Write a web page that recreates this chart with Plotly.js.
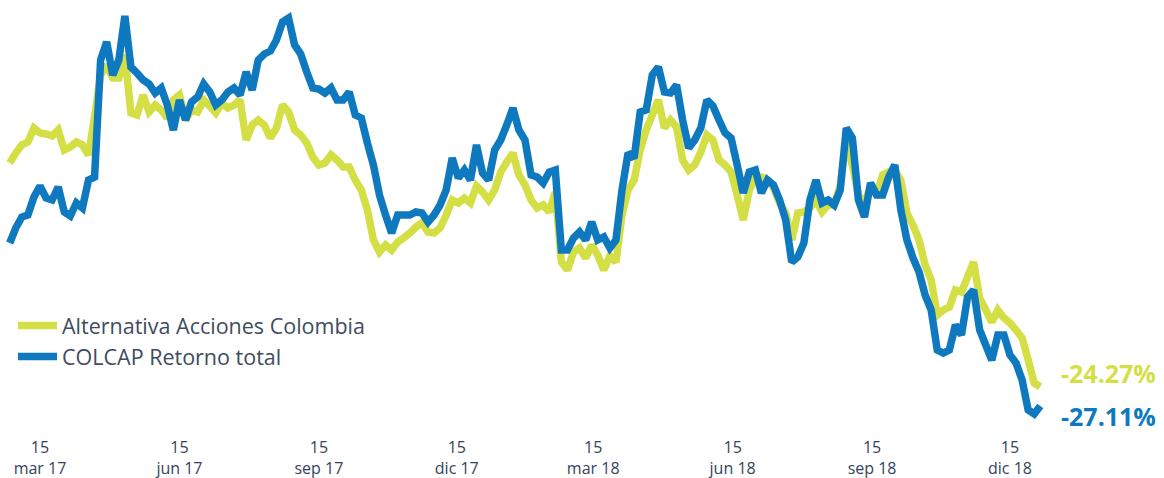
<!DOCTYPE html>
<html>
<head>
<meta charset="utf-8">
<script src="https://cdn.plot.ly/plotly-3.0.1.min.js"></script>
<style>
  html, body { margin: 0; padding: 0; background: #ffffff; }
  #chart { width: 1164px; height: 478px; }
</style>
</head>
<body>
<div id="chart"></div>
<script>
// ---- Data ----
// Series sampled every 4 calendar days starting at START_DATE
const START_DATE = '2017-02-23';
const STEP_DAYS = 4;

const seriesNames = ['Alternativa Acciones Colombia', 'COLCAP Retorno total'];

// Alternativa Acciones Colombia (return, %)
const alternativa = [
  -1.9,-0.9,-0.1,0.2,1.6,1.1,1.0,0.8,1.4,-0.6,
  -0.3,0.2,-0.1,-1.1,2.7,6.9,7.9,6.6,6.6,8.9,
  3.1,2.9,4.9,3.2,3.9,3.4,2.6,4.4,4.9,2.4,
  3.4,3.2,4.4,3.8,3.1,4.1,3.6,3.9,4.4,0.4,
  1.9,2.4,1.9,0.6,1.6,3.9,3.2,1.4,0.9,0.1,
  -1.3,-2.1,-1.9,-1.1,-1.6,-2.3,-2.3,-3.6,-4.6,-6.6,
  -9.6,-10.8,-10.1,-10.6,-9.8,-9.4,-8.9,-8.3,-7.9,-8.8,
  -8.9,-8.4,-7.1,-5.6,-5.9,-5.4,-5.9,-4.2,-4.8,-5.6,
  -4.6,-2.8,-1.8,-0.9,-3.1,-4.1,-5.6,-6.4,-6.1,-6.8,
  -4.8,-11.8,-12.6,-10.8,-10.4,-11.4,-10.1,-11.1,-12.6,-11.2,
  -11.8,-7.1,-4.6,-3.6,-0.6,1.4,2.9,4.4,1.6,2.4,
  1.7,-1.6,-2.6,-2.1,-0.8,0.9,0.4,-1.6,-2.1,-2.8,
  -5.1,-7.6,-4.6,-3.3,-3.3,-3.6,-4.4,-5.9,-6.9,-9.6,
  -6.9,-6.8,-6.4,-5.6,-6.8,-6.1,-6.1,-4.1,0.4,-2.1,
  -5.1,-6.1,-4.1,-5.1,-3.1,-2.8,-2.6,-3.6,-6.9,-8.1,
  -9.6,-12.1,-13.6,-17.1,-16.6,-16.3,-14.6,-14.8,-13.3,-11.8,
  -15.4,-16.6,-17.8,-16.6,-17.4,-17.9,-18.6,-19.4,-21.6,-23.9,
  -24.27
];

// COLCAP Retorno total (return, %)
const colcap = [
  -9.9,-8.4,-7.3,-7.1,-5.3,-4.2,-5.4,-5.6,-4.3,-6.8,
  -7.2,-5.9,-6.4,-3.6,-3.3,8.4,10.2,6.9,8.4,12.8,
  7.7,7.1,6.4,6.0,5.1,5.6,3.9,1.4,4.4,2.4,
  4.2,4.7,6.0,5.2,3.9,4.4,5.2,5.6,4.9,7.2,
  5.4,8.4,9.0,9.3,10.4,12.2,12.6,9.9,9.0,7.2,
  5.6,5.5,5.1,5.6,4.4,4.4,5.2,2.9,2.6,0.1,
  -2.1,-5.1,-7.1,-8.9,-7.1,-7.1,-7.1,-6.8,-6.9,-7.8,
  -7.1,-6.1,-4.6,-1.4,-3.4,-2.6,-3.6,-0.1,-2.9,-3.6,
  -0.6,0.4,1.9,3.6,1.4,0.4,-3.1,-3.3,-3.9,-2.8,
  -2.6,-10.6,-10.6,-9.4,-8.8,-9.6,-7.8,-9.6,-9.3,-10.4,
  -9.6,-4.6,-0.9,-1.4,3.2,3.4,6.9,7.7,5.2,5.1,
  5.9,2.4,-0.4,0.4,1.6,4.4,3.8,2.4,1.1,0.6,
  -2.1,-4.9,-2.8,-2.6,-4.9,-3.6,-4.1,-5.6,-7.6,-11.8,
  -11.3,-9.9,-5.6,-3.6,-5.9,-5.6,-6.1,-4.6,1.6,0.6,
  -5.6,-7.3,-3.9,-5.1,-5.1,-3.3,-2.1,-6.6,-9.6,-11.4,
  -12.8,-15.1,-16.6,-20.6,-20.9,-20.6,-18.1,-19.1,-15.3,-14.6,
  -18.6,-20.1,-21.6,-19.1,-19.1,-21.1,-21.9,-23.6,-26.6,-27.0,
  -26.2
];

const endLabels = ['-24.27%', '-27.11%'];

const tickDates = ['2017-03-15','2017-06-15','2017-09-15','2017-12-15',
                   '2018-03-15','2018-06-15','2018-09-15','2018-12-15'];
const tickLabels = ['15<br>mar 17','15<br>jun 17','15<br>sep 17','15<br>dic 17',
                    '15<br>mar 18','15<br>jun 18','15<br>sep 18','15<br>dic 18'];

// ---- Build date axis values (regular sampling grid) ----
function fmt(ms) {
  return new Date(ms).toISOString().replace('T', ' ').replace('Z', '').slice(0, 19);
}
const DAY = 86400000;
const t0 = Date.parse(START_DATE + 'T00:00:00Z');
const dates = alternativa.map((_, i) => fmt(t0 + i * STEP_DAYS * DAY));

// ---- Styling ----
const GREEN = '#d4df45';
const BLUE = '#0e79bf';
const TEXT = '#34435a';
const W = 1164, H = 478;
const PX_PER_DAY = 1.5156;
const anchorMs = Date.parse('2017-03-15T00:00:00Z');
const anchorPx = 40;
const xRange = [fmt(anchorMs - anchorPx / PX_PER_DAY * DAY),
                fmt(anchorMs + (W - anchorPx) / PX_PER_DAY * DAY)];

const traces = [
  {
    x: dates, y: alternativa, name: seriesNames[0], type: 'scatter', mode: 'lines',
    line: { color: GREEN, width: 7.5, simplify: false }
  },
  {
    x: dates, y: colcap, name: seriesNames[1], type: 'scatter', mode: 'lines',
    line: { color: BLUE, width: 7.5, simplify: false }
  }
];

const layout = {
  width: W, height: H,
  margin: { l: 0, r: 0, t: 4, b: 54 },
  paper_bgcolor: '#ffffff', plot_bgcolor: '#ffffff',
  showlegend: true,
  legend: {
    x: 13 / W, xanchor: 'left', y: 0.283, yanchor: 'top',
    bgcolor: 'rgba(0,0,0,0)', borderwidth: 0,
    itemwidth: 39, tracegroupgap: 0,
    font: { family: 'Open Sans', size: 21.5, color: '#3e4c60' }
  },
  xaxis: {
    type: 'date', range: xRange,
    showgrid: false, zeroline: false, showline: false, ticks: '',
    tickmode: 'array', tickvals: tickDates, ticktext: tickLabels,
    tickfont: { family: 'Open Sans', size: 16, color: TEXT },
    ticklabelstandoff: 12
  },
  yaxis: {
    range: [-28, 14], visible: false, showgrid: false, zeroline: false
  },
  annotations: [
    { xref: 'paper', yref: 'paper', x: 1158 / W, y: (424 - 373) / 420, xanchor: 'right', yanchor: 'middle',
      text: endLabels[0], showarrow: false,
      font: { family: 'Open Sans', size: 25, color: GREEN, weight: 'bold' } },
    { xref: 'paper', yref: 'paper', x: 1158 / W, y: (424 - 416) / 420, xanchor: 'right', yanchor: 'middle',
      text: endLabels[1], showarrow: false,
      font: { family: 'Open Sans', size: 25, color: BLUE, weight: 'bold' } }
  ]
};

Plotly.newPlot('chart', traces, layout, { displayModeBar: false, staticPlot: true });
</script>
</body>
</html>
